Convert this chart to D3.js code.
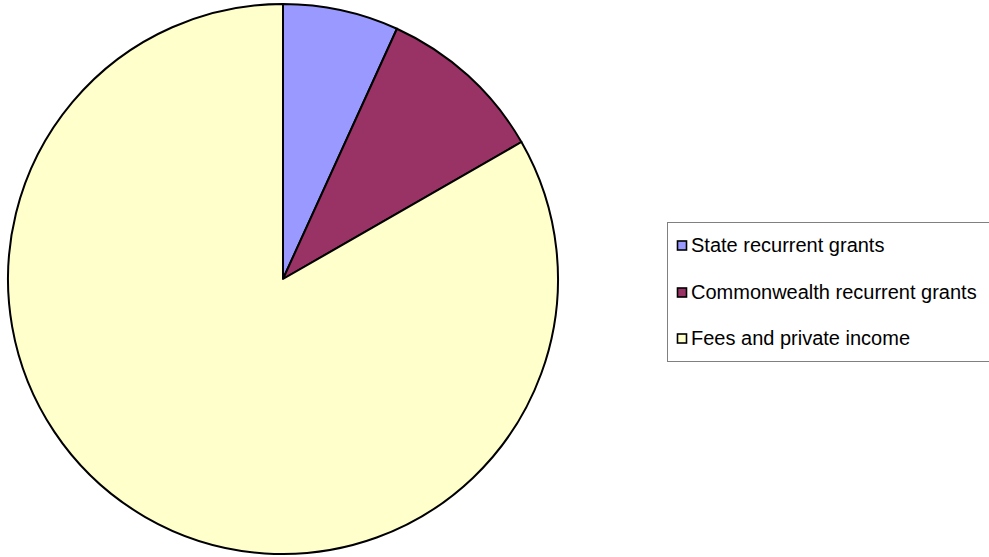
<!DOCTYPE html>
<html><head><meta charset="utf-8">
<script src="https://cdn.jsdelivr.net/npm/d3@7"></script>
<style>body{margin:0;background:#fff;}svg{display:block;}</style>
</head><body>
<script>
const categories = ["State recurrent grants", "Commonwealth recurrent grants", "Fees and private income"];
const values = [6.8, 9.9, 83.3];
const colors = ["#9999FF", "#993366", "#FFFFCC"];

const W = 989, H = 557;
const svg = d3.select("body").append("svg").attr("width", W).attr("height", H);
const cx = 283, cy = 279, r = 275;
const pie = d3.pie().sort(null).value(d => d)(values);
const arc = d3.arc().innerRadius(0).outerRadius(r);
const color = d3.scaleOrdinal().domain(categories).range(colors);
svg.append("g").attr("transform", `translate(${cx},${cy})`)
  .selectAll("path").data(pie).join("path")
  .attr("d", arc).attr("fill", (d, i) => color(categories[i]))
  .attr("stroke", "#000").attr("stroke-width", 2).attr("stroke-linejoin", "round");

const lg = svg.append("g");
lg.append("rect").attr("x", 667.5).attr("y", 222.5).attr("width", 330).attr("height", 139)
  .attr("fill", "#fff").attr("stroke", "#808080").attr("stroke-width", 1);
const rowY = [245, 292, 338];
categories.forEach((c, i) => {
  lg.append("rect").attr("x", 677.5).attr("y", rowY[i] - 4).attr("width", 9).attr("height", 9)
    .attr("fill", color(c)).attr("stroke", "#000").attr("stroke-width", 1.6);
  lg.append("text").attr("x", 691).attr("y", rowY[i]).attr("dy", "0.35em")
    .attr("font-family", "Liberation Sans, Arial, sans-serif").attr("font-size", 20)
    .attr("fill", "#000").text(c);
});
</script>
</body></html>
